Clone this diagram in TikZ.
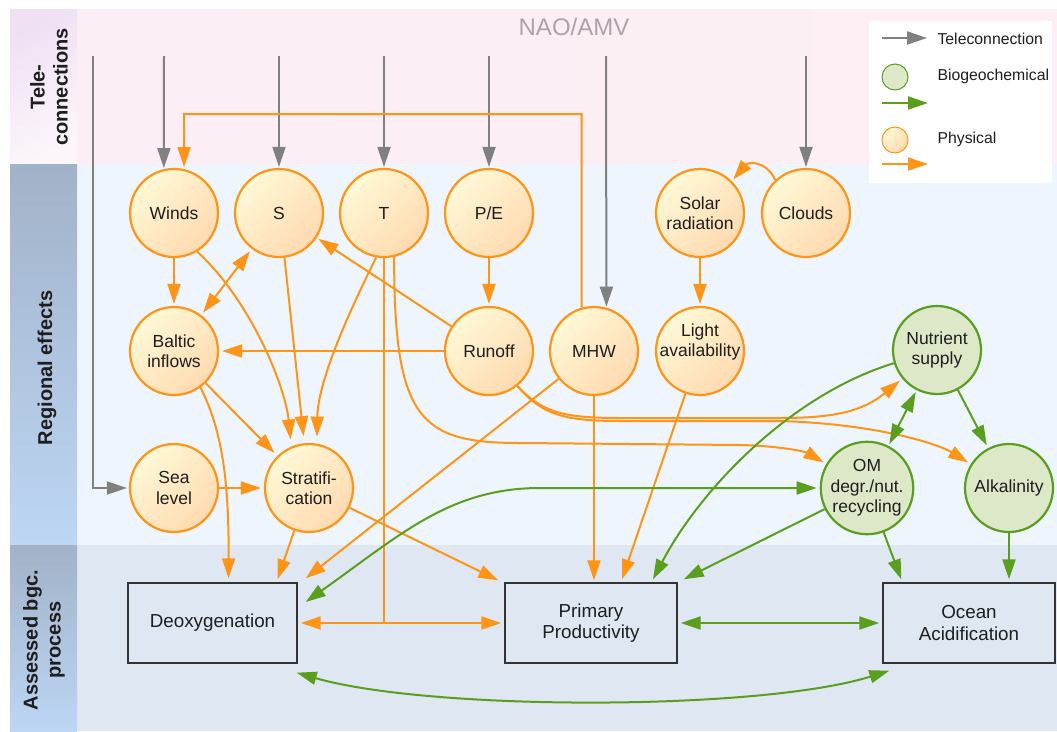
\documentclass[tikz,border=0pt]{standalone}
\usepackage{fontspec}
\setmainfont{Liberation Sans}
\usetikzlibrary{arrows.meta,calc}
\definecolor{org}{HTML}{FF9416}
\definecolor{grn}{HTML}{5A9E1E}
\definecolor{gry}{HTML}{808080}
\definecolor{txt}{HTML}{1E1E1E}
\definecolor{physA}{HTML}{FFF8D6}
\definecolor{physB}{HTML}{FFDAB0}
\definecolor{bioF}{HTML}{DDE8C9}
\definecolor{bandTop}{HTML}{FBEEF6}
\definecolor{bandTopR}{HTML}{FDEFF3}
\definecolor{bandMid}{HTML}{EEF5FD}
\definecolor{bandLow}{HTML}{DFE8F2}
\definecolor{colA}{HTML}{A2B2C8}
\definecolor{colB}{HTML}{BCD6F4}
\definecolor{lavA}{HTML}{EFE0F4}
\definecolor{lavB}{HTML}{FCF6FB}
\definecolor{naoc}{HTML}{ABA4AB}
\newcommand{\cfnt}{\fontsize{17.5}{20.5}\selectfont}
\newcommand{\bfnt}{\fontsize{18.8}{21.5}\selectfont}
\newcommand{\lfnt}{\fontsize{15.8}{18}\selectfont}
\begin{document}
\begin{tikzpicture}[x=1pt,y=-1pt,
  >={Triangle[length=20pt,width=13pt]},
  phys/.style={circle, minimum size=88pt, inner sep=0pt, draw=org, line width=2.2pt,
     top color=physA, bottom color=physB, shading angle=45,
     align=center, font=\cfnt, text=txt},
  bio/.style={circle, minimum size=88pt, inner sep=0pt, draw=grn, line width=2.2pt,
     fill=bioF, align=center, font=\cfnt, text=txt},
  procbox/.style={rectangle, minimum width=170pt, minimum height=80pt, draw=black!80,
     line width=1.4pt, fill=bandLow, align=center, font=\bfnt, text=txt},
  oline/.style={draw=org, line width=2pt},
  oarr/.style={oline, ->, shorten >=2pt},
  odarr/.style={oline, <->, shorten >=3pt, shorten <=3pt},
  gline/.style={draw=grn, line width=2pt},
  garr/.style={gline, ->, shorten >=2pt},
  gdarr/.style={gline, <->, shorten >=3pt, shorten <=3pt},
  tarr/.style={draw=gry, line width=2pt, ->, shorten >=1pt},
  sidelabel/.style={rotate=90, align=center, font=\fontsize{20}{23}\selectfont\bfseries, text=txt},
  legtext/.style={anchor=west, font=\lfnt, text=txt}
]
\useasboundingbox (0,0) rectangle (1057,731);
\fill[white] (0,0) rectangle (1057,731);
% bands
\fill[left color=bandTop, right color=bandTopR] (77,9) rectangle (1057,164);
\fill[bandMid] (77,164) rectangle (1057,545);
\fill[bandLow] (77,545) rectangle (1057,731);
\fill[top color=lavA, bottom color=lavB, shading angle=30] (10,9) rectangle (77,164);
\fill[top color=colA, bottom color=colB] (10,164) rectangle (77,545);
\fill[top color=colA, bottom color=colB] (10,545) rectangle (77,731);
\node[sidelabel] (lbtele) at (49,87) {Tele-\\connections};
\node[sidelabel] (lbreg) at (47,368) {Regional effects};
\node[sidelabel] (lbass) at (44,640) {Assessed bgc.\\process};
\node[font=\fontsize{24}{26}\selectfont, text=naoc] (nao) at (574,27) {NAO/AMV};

% legend
\node[fill=white, minimum width=183pt, minimum height=162pt, inner sep=0pt] (legend) at (960.5,102) {};
\coordinate (lt1) at (882,38); \coordinate (lt2) at (928,38);
\draw[tarr] (lt1) -- (lt2);
\node[legtext] (ltt) at (934,39) {Teleconnection};
\node[circle, minimum size=26pt, inner sep=0pt, draw=grn, line width=1pt, fill=bioF] (lgc) at (895,77) {};
\node[legtext] (lbt) at (934,76) {Biogeochemical};
\coordinate (lg1) at (882,103); \coordinate (lg2) at (928,103);
\draw[garr, shorten >=0pt] (lg1) -- (lg2);
\node[circle, minimum size=26pt, inner sep=0pt, draw=org, line width=1pt, top color=physA, bottom color=physB, shading angle=45] (loc) at (895,140) {};
\node[legtext] (lpt) at (934,139) {Physical};
\coordinate (lo1) at (882,164); \coordinate (lo2) at (928,164);
\draw[oarr, shorten >=0pt] (lo1) -- (lo2);

% nodes
\node[phys] (winds) at (174,213) {Winds};
\node[phys] (S) at (279,213) {S};
\node[phys] (T) at (384,213) {T};
\node[phys] (pe) at (489,213) {P/E};
\node[phys] (solar) at (700,213) {Solar\\radiation};
\node[phys] (clouds) at (806,213) {Clouds};
\node[phys] (baltic) at (174,351) {Baltic\\inflows};
\node[phys] (runoff) at (489,351) {Runoff};
\node[phys] (mhw) at (594,351) {MHW};
\node[phys] (light) at (700,351) {};
\node[align=center, font=\cfnt, text=txt, inner sep=0pt] (lighttxt) at (700,342) {Light\\availability};
\node[bio] (nutrient) at (937,350) {Nutrient\\supply};
\node[phys] (sealevel) at (174,488) {Sea\\level};
\node[phys] (strat) at (309,488) {Stratifi-\\cation};
\node[bio] (om) at (867,488) {OM\\degr./nut.\\recycling};
\node[bio] (alk) at (1009,488) {Alkalinity};
\node[procbox, minimum width=169pt] (deox) at (212.5,623) {Deoxygenation};
\node[procbox, minimum width=172pt] (pp) at (591,623) {Primary\\Productivity};
\node[procbox, minimum width=172pt] (oa) at (969,623) {Ocean\\Acidification};

% teleconnections
\coordinate (g0) at (93,56);
\coordinate (g1) at (164,56);
\coordinate (g2) at (279,56);
\coordinate (g3) at (384,56);
\coordinate (g4) at (489,56);
\coordinate (g5) at (606,56);
\coordinate (g6) at (806,56);
\draw[tarr, shorten >=2pt] (g0) |- (sealevel.west);
\draw[tarr] (g1) -- (winds.103);
\draw[tarr] (g2) -- (S.north);
\draw[tarr] (g3) -- (T.north);
\draw[tarr] (g4) -- (pe.north);
\draw[tarr] (g5) -- (mhw.74);
\draw[tarr] (g6) -- (clouds.north);

% physical links
\coordinate (wtop) at (184,114);
\draw[oarr] (mhw.106) |- (wtop) -- (winds.77);
\draw[oarr] (clouds.133) .. controls (766,160) and (748,162) .. (solar.45);
\draw[oarr] (winds) -- (baltic);
\draw[oarr, shorten >=7pt] (winds.-59) .. controls (250,300) and (285,385) .. (strat.113);
\draw[oarr, shorten >=7pt] (S.-83) -- (strat.96);
\draw[oarr, shorten >=7pt] (T.-100) .. controls (350,310) and (318,380) .. (strat.80);
\draw[odarr] (S) -- (baltic);
\draw[oarr] (runoff) -- (S);
\draw[oarr, shorten >=3pt] (runoff) -- (baltic);
\coordinate (tj) at (T |- deox.east);
\draw[oline] (T) -- (tj);
\draw[odarr] (deox) -- (pp);
\draw[oarr, shorten >=3pt] (T.-77) .. controls (394,420) and (420,443) .. (520,443) -- (740,445) .. controls (782,446) and (806,452) .. (om);
\draw[oarr] (pe) -- (runoff);
\draw[oarr] (solar) -- (light);
\draw[oarr, shorten >=3pt] (runoff.-51) .. controls (542,412) and (562,418) .. (620,418) -- (780,418) .. controls (832,418) and (862,412) .. (nutrient);
\draw[oarr, shorten >=3pt] (runoff.-51) .. controls (542,414) and (562,421) .. (620,421) -- (780,421) .. controls (880,424) and (940,445) .. (alk);
\draw[oarr, shorten >=4pt] (baltic) -- (strat);
\draw[oarr] (baltic.-54) .. controls (222,430) and (229,480) .. ($(deox.north)+(16,-2)$);
\draw[oarr, shorten >=3pt] (sealevel) -- (strat);
\draw[oarr, shorten >=0pt] (strat) -- ($(deox.north)+(65,-3)$);
\draw[oarr, shorten >=0pt] (strat) -- ($(pp.north west)+(-6,-2)$);
\draw[oarr, shorten >=0pt] (mhw) -- ($(deox.north east)+(8,-4)$);
\draw[oarr] (mhw) -- (mhw |- pp.north);
\draw[oarr, shorten >=0pt] (light) -- ($(pp.north)+(31,-3)$);

% biogeochemical links
\draw[garr, shorten >=0pt] (nutrient) .. controls (790,395) and (700,490) .. ($(pp.north)+(62,-3)$);
\draw[gdarr, shorten <=2pt, shorten >=2pt] (nutrient) -- (om);
\draw[garr, shorten >=3pt] (nutrient) -- (alk);
\draw[gdarr, shorten <=0pt] ($(deox.east)+(8,-21)$) .. controls (400,535) and (450,488) .. (540,488) -- (om);
\draw[garr, shorten >=0pt] (om) -- ($(pp.north east)+(6,-3)$);
\draw[garr, shorten >=0pt] (om) -- ($(oa.north west)+(19,-3)$);
\draw[garr, shorten >=3pt] (alk) -- (alk |- oa.north);
\draw[gdarr] (pp) -- (oa);
\draw[gdarr, shorten <=0pt, shorten >=0pt] ($(deox.south east)+(-1,9)$) .. controls (430,711) and (760,711) .. ($(oa.south west)+(7,7)$);
\end{tikzpicture}
\end{document}
